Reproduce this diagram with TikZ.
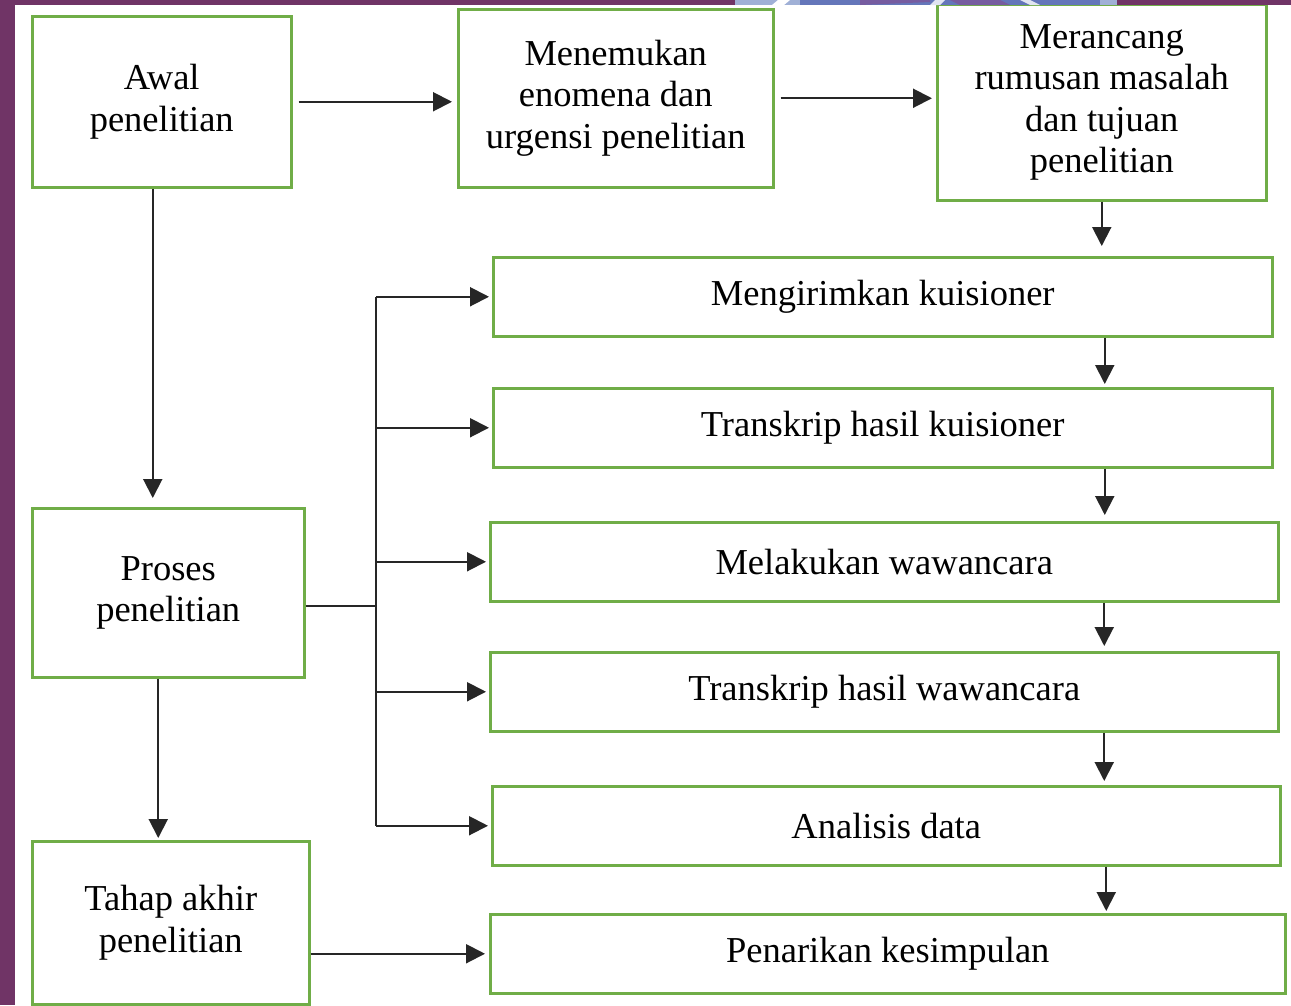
\documentclass[tikz,border=0pt]{standalone}
\usepackage{fontspec}
\setmainfont{Liberation Serif}
\usetikzlibrary{arrows.meta}

\definecolor{boxgreen}{RGB}{112,173,71}
\definecolor{slidepurple}{RGB}{112,52,102}
\definecolor{logoblue}{RGB}{100,118,186}
\definecolor{logolight}{RGB}{160,176,214}
\definecolor{logoviolet}{RGB}{118,92,160}

\tikzset{
	stepbox/.style={draw=boxgreen, line width=2.5pt, fill=white, anchor=north west, align=center, inner sep=0pt, font=\fontsize{36.5}{41.5}\selectfont},
	flow/.style={-{Triangle[length=19pt,width=19pt]}, line width=2pt, draw=black!85},
	trunkline/.style={line width=2pt, draw=black!85},
}

\begin{document}
\begin{tikzpicture}[x=1pt,y=-1pt]

	\useasboundingbox (0,0) rectangle (1291,1005);
	\fill[white] (0,0) rectangle (1291,1005);

	% left column
	\node[stepbox, minimum width=259pt, minimum height=171pt] at (31,15) (awal) {Awal\\penelitian};
	\node[stepbox, minimum width=272pt, minimum height=169pt] at (31,507) (proses) {Proses\\penelitian};
	\node[stepbox, minimum width=277pt, minimum height=163pt] at (31,840) (tahap) {Tahap akhir\\penelitian};

	% top row
	\node[stepbox, minimum width=315pt, minimum height=178pt] at (457,8) (temuan) {Menemukan\\enomena dan\\urgensi penelitian};
	\node[stepbox, minimum width=329pt, minimum height=196pt] at (936,3) (rancang) {Merancang\\rumusan masalah\\dan tujuan\\penelitian};

	% right column
	\node[stepbox, minimum width=779pt, minimum height=79pt] at (492,256) (kirim) {Mengirimkan kuisioner};
	\node[stepbox, minimum width=779pt, minimum height=79pt] at (492,387) (transkuis) {Transkrip hasil kuisioner};
	\node[stepbox, minimum width=788pt, minimum height=79pt] at (489,521) (wawancara) {Melakukan wawancara};
	\node[stepbox, minimum width=788pt, minimum height=79pt] at (489,651) (transwaw) {Transkrip hasil wawancara};
	\node[stepbox, minimum width=788pt, minimum height=79pt] at (491,785) (analisis) {Analisis data};
	\node[stepbox, minimum width=795pt, minimum height=79pt] at (489,913) (tarik) {Penarikan kesimpulan};

	% top row arrows
	\draw[flow, shorten <=6pt, shorten >=5pt] (awal.east) -- (awal.east -| temuan.west);
	\draw[flow, shorten <=6pt, shorten >=4pt] (temuan.east) -- (temuan.east -| rancang.west);
	\draw[flow, shorten >=10pt] (rancang.south) -- (rancang.south |- kirim.north);

	% down the right column
	\draw[flow, shorten >=3pt] ([xshift=222pt]kirim.south) -- ([xshift=222pt]kirim.south |- transkuis.north);
	\draw[flow, shorten >=6pt] ([xshift=222pt]transkuis.south) -- ([xshift=222pt]transkuis.south |- wawancara.north);
	\draw[flow, shorten >=5pt] ([xshift=220pt]wawancara.south) -- ([xshift=220pt]wawancara.south |- transwaw.north);
	\draw[flow, shorten >=4pt] ([xshift=220pt]transwaw.south) -- ([xshift=220pt]transwaw.south |- analisis.north);
	\draw[flow, shorten >=2pt] ([xshift=220pt]analisis.south) -- ([xshift=220pt]analisis.south |- tarik.north);

	% left column arrows
	\draw[flow, shorten >=9pt] ([xshift=-9pt]awal.south) -- ([xshift=-9pt]awal.south |- proses.north);
	\draw[flow, shorten >=2pt] ([xshift=-10pt]proses.south) -- ([xshift=-10pt]proses.south |- tahap.north);

	% proses branches
	\coordinate (trunk) at (376,606);
	\draw[trunkline] (proses.east |- trunk) -- (trunk);
	\draw[trunkline] (trunk |- kirim.west) -- (trunk |- analisis.west);
	\foreach \n in {kirim,transkuis,wawancara,transwaw,analisis}
		\draw[flow, shorten >=3pt] (trunk |- \n.west) -- (\n.west);

	\draw[flow, shorten >=4pt] (tarik.west -| tahap.east) -- (tarik.west);

	% slide frame
	\fill[slidepurple] (0,0) rectangle (15,1005);
	\fill[slidepurple] (0,0) rectangle (1291,5);
	\begin{scope}
		\clip (733,0) rectangle (1117,5);
		\fill[logolight] (735,0) rectangle (1117,5);
		\fill[logoblue] (800,0) rectangle (1100,5);
		\fill[white] (778,0) -- (790,0) -- (784,5) -- (772,5) -- cycle;
		\fill[logoviolet] (860,0) -- (930,0) -- (930,2) -- (860,5) -- cycle;
		\fill[white!80!logoblue] (935,0) -- (945,0) -- (940,5) -- (930,5) -- cycle;
		\fill[logoviolet] (950,0) -- (1000,0) -- (1010,5) -- (960,5) -- cycle;
		\fill[white!80!logoblue] (1020,0) -- (1030,0) -- (1040,5) -- (1030,5) -- cycle;
	\end{scope}

\end{tikzpicture}
\end{document}
